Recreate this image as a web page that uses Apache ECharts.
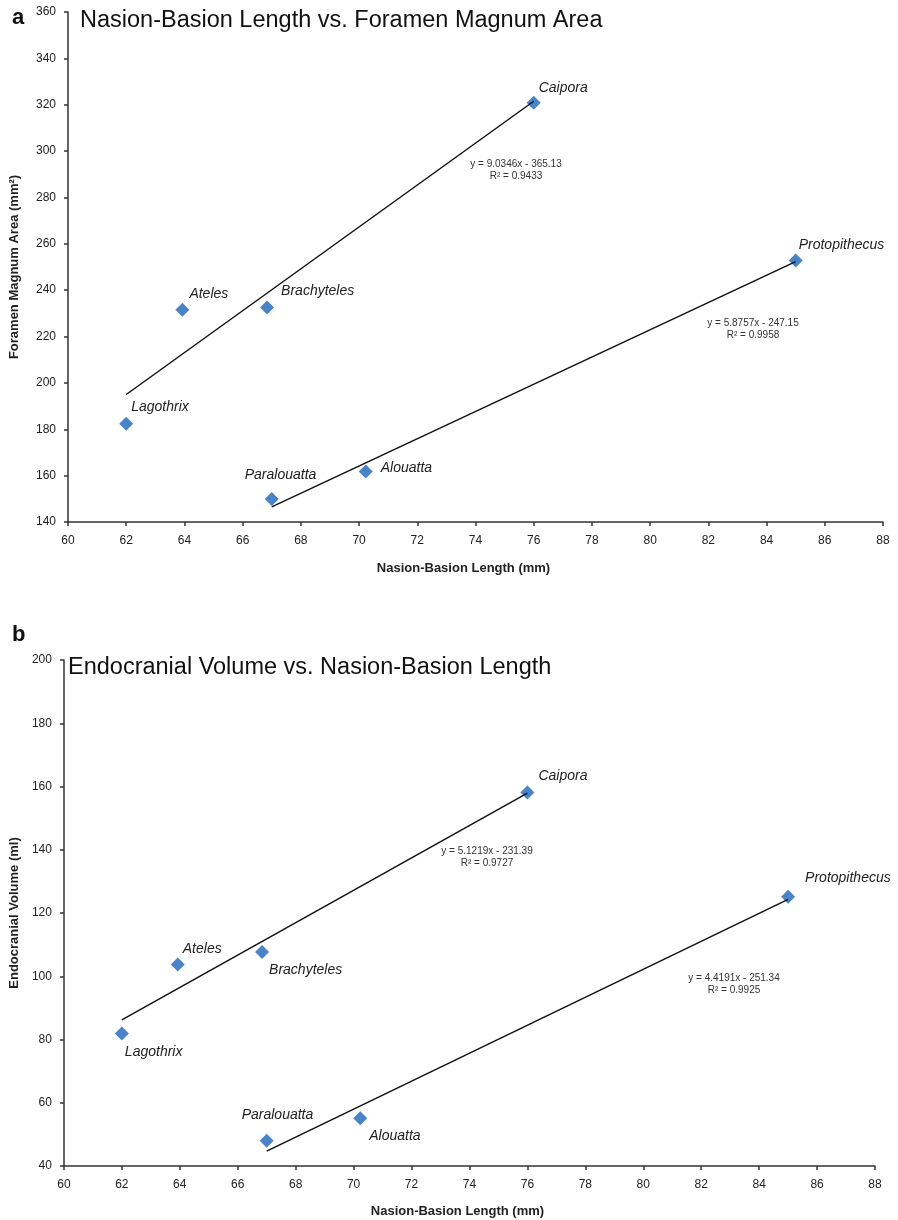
<!DOCTYPE html>
<html>
<head>
<meta charset="utf-8">
<script src="https://cdn.jsdelivr.net/npm/echarts@6/dist/echarts.min.js"></script>
<style>
  html, body { margin: 0; padding: 0; background: #fff; }
  #chart { width: 898px; height: 1220px; }
</style>
</head>
<body>
<div id="chart"></div>
<script>
// species measured (same order in every array)
const species = ['Lagothrix', 'Ateles', 'Brachyteles', 'Paralouatta', 'Alouatta', 'Caipora', 'Protopithecus']
const nasionBasion = [62.0, 63.93, 66.84, 67.0, 70.23, 76.0, 85.0]   // mm
const foramenArea = [182.4, 231.6, 232.5, 149.9, 161.8, 320.9, 252.8] // mm²
const endoVolume = [81.9, 103.7, 107.7, 48.0, 55.1, 158.1, 125.1]     // ml

// trend line end points, as drawn
const trendA1 = [[62, 195.0], [76, 321.5]]
const trendA2 = [[67, 146.5], [85, 252.3]]
const trendB1 = [[62, 86.2], [76, 157.9]]
const trendB2 = [[67, 44.7], [85, 124.3]]

const eqA1 = 'y = 9.0346x - 365.13\nR² = 0.9433'
const eqA2 = 'y = 5.8757x - 247.15\nR² = 0.9958'
const eqB1 = 'y = 5.1219x - 231.39\nR² = 0.9727'
const eqB2 = 'y = 4.4191x - 251.34\nR² = 0.9925'

// label offsets (px) from each marker, per panel
const labelOffA = [[5, -17], [7, -16], [14, -16], [-27, -24], [15, -3], [5, -15], [3, -15]]
const labelOffB = [[3, 19], [5, -15], [7, 18], [-25, -26], [9, 18], [11, -16], [17, -19]]

const font = "'Liberation Sans', Arial, sans-serif"
const markerColor = '#4a84c8'

function points(ys, offsets) {
  return species.map((name, i) => ({
    name: name,
    value: [nasionBasion[i], ys[i]],
    label: { offset: offsets[i] }
  }))
}

function xAxisFor(grid, gap) {
  return {
    type: 'value', gridIndex: grid, min: 60, max: 88, interval: 2,
    name: 'Nasion-Basion Length (mm)', nameLocation: 'middle', nameGap: gap,
    nameTextStyle: { fontFamily: font, fontWeight: 'bold', fontSize: 13, color: '#222', padding: [0, 24, 0, 0] },
    axisLine: { show: true, onZero: false, lineStyle: { color: '#333', width: 1.5 } },
    axisTick: { show: true, length: 4, lineStyle: { color: '#333', width: 1.5 } },
    axisLabel: { fontFamily: font, fontSize: 12, color: '#222', margin: 13 },
    splitLine: { show: false }
  }
}

function yAxisFor(grid, min, max, name, gap) {
  return {
    type: 'value', gridIndex: grid, min: min, max: max, interval: 20,
    name: name, nameLocation: 'middle', nameGap: gap,
    nameTextStyle: { fontFamily: font, fontWeight: 'bold', fontSize: 13, color: '#222' },
    axisLine: { show: true, onZero: false, lineStyle: { color: '#333', width: 1.5 } },
    axisTick: { show: true, length: 4, lineStyle: { color: '#333', width: 1.5 } },
    axisLabel: { fontFamily: font, fontSize: 12, color: '#222', margin: 12 },
    splitLine: { show: false }
  }
}

function scatter(grid, ys, offsets) {
  return {
    type: 'scatter', xAxisIndex: grid, yAxisIndex: grid, z: 3,
    symbol: 'diamond', symbolSize: 14,
    itemStyle: { color: markerColor, opacity: 1 },
    label: {
      show: true, position: 'inside', align: 'left', verticalAlign: 'middle',
      formatter: p => p.name,
      fontFamily: font, fontStyle: 'italic', fontSize: 14, color: '#222'
    },
    data: points(ys, offsets)
  }
}

function trend(grid, data) {
  return {
    type: 'line', xAxisIndex: grid, yAxisIndex: grid, z: 4, silent: true,
    symbol: 'none', lineStyle: { color: '#111', width: 1.5 },
    data: data
  }
}

function eqText(x, y, text) {
  return {
    type: 'text', x: x, y: y,
    style: { text: text, fontFamily: font, fontSize: 10, fill: '#333', align: 'center', verticalAlign: 'middle', lineHeight: 11.5 }
  }
}

function bigText(x, y, text, size, weight) {
  return {
    type: 'text', x: x, y: y,
    style: { text: text, fontFamily: font, fontSize: size, fontWeight: weight, fill: '#111', verticalAlign: 'middle' }
  }
}

const chart = echarts.init(document.getElementById('chart'))

chart.setOption({
  animation: false,
  backgroundColor: '#fff',
  grid: [
    { left: 68, top: 12, width: 815, height: 510 },
    { left: 59, top: 660, width: 816, height: 506 }
  ],
  xAxis: [xAxisFor(0, 40), xAxisFor(1, 39)],
  yAxis: [
    yAxisFor(0, 140, 360, 'Foramen Magnum Area (mm²)', 47),
    yAxisFor(1, 40, 200, 'Endocranial Volume (ml)', 41)
  ],
  series: [
    trend(0, trendA1), trend(0, trendA2),
    scatter(0, foramenArea, labelOffA),
    trend(1, trendB1), trend(1, trendB2),
    scatter(1, endoVolume, labelOffB)
  ],
  graphic: [
    bigText(12, 18, 'a', 22, 'bold'),
    bigText(80, 21, 'Nasion-Basion Length vs. Foramen Magnum Area', 23.5, 'normal'),
    bigText(12, 635, 'b', 22, 'bold'),
    bigText(68, 668, 'Endocranial Volume vs. Nasion-Basion Length', 23.5, 'normal'),
    eqText(516, 170, eqA1),
    eqText(753, 329, eqA2),
    eqText(487, 857, eqB1),
    eqText(734, 984, eqB2)
  ]
})
</script>
</body>
</html>
